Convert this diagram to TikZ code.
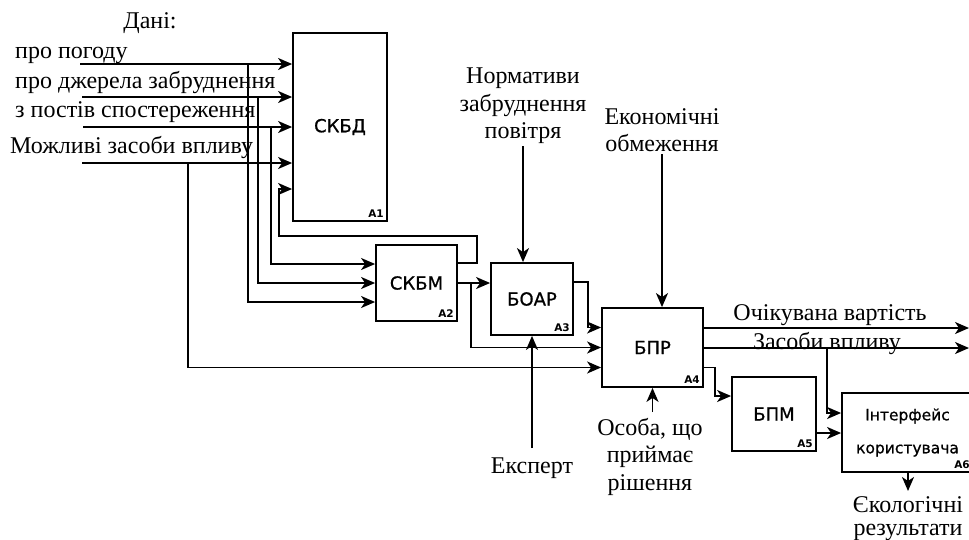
\documentclass[tikz,border=0pt]{standalone}
\usepackage{fontspec}
\setmainfont{Liberation Serif}
\newfontfamily\boxfont[FakeBold=0.8]{DejaVu Sans}
\newfontfamily\idxfont{DejaVu Sans}
\usepackage{tikz}
\usetikzlibrary{arrows.meta,calc}
\tikzset{
  box/.style={rectangle, draw, line width=1.8pt, inner sep=0pt, align=center,
              font=\boxfont\fontsize{18}{33}\selectfont},
  idx/.style={anchor=south east, inner sep=4pt,
              font=\idxfont\bfseries\fontsize{10.5}{10.5}\selectfont},
  txt/.style={inner sep=0pt, align=center, font=\fontsize{24}{27.5}\selectfont},
  flow/.style={-{Stealth[length=14pt,width=12pt,inset=4pt]}, line width=1.8pt}
}

\begin{document}
\begin{tikzpicture}[x=1pt,y=-1pt]
\useasboundingbox (0,0) rectangle (969,539);
% blocks
\node[box, minimum width=94pt, minimum height=188pt] (A1) at (340,127) {СКБД};
\node[box, minimum width=81pt, minimum height=76pt] (A2) at (416.5,283) {СКБМ};
\node[box, minimum width=82pt, minimum height=72pt] (A3) at (532,299) {БОАР};
\node[box, minimum width=101pt, minimum height=79pt] (A4) at (652.5,347.5) {БПР};
\node[box, minimum width=84pt, minimum height=74pt] (A5) at (774,414) {БПМ};
\node[box, minimum width=131pt, minimum height=79pt, font=\boxfont\fontsize{15.5}{33}\selectfont]
  (A6) at (907.5,432.5) {Інтерфейс\\користувача};
\foreach \i in {1,...,6} \node[idx] at (A\i.south east) {A\i};
% input data
\node[txt, anchor=base] (data) at (150,28) {Дані:};
\node[txt, anchor=base west] (weather) at (15,58) {про погоду};
\node[txt, anchor=base west] (sources) at (15,88) {про джерела забруднення};
\node[txt, anchor=base west] (posts) at (15,117) {з постів спостереження};
\node[txt, anchor=base west] (means) at (10,153) {Можливі засоби впливу};
\coordinate (i1) at (80,64); \coordinate (i2) at (82,97);
\coordinate (i3) at (83,127); \coordinate (i4) at (82,163);
\draw[flow] (i1) -- (i1 -| A1.west); \draw[flow] (i2) -- (i2 -| A1.west);
\draw[flow] (i3) -- (i3 -| A1.west); \draw[flow] (i4) -- (i4 -| A1.west);
\coordinate (d1) at (248,64); \coordinate (d2) at (258,97);
\coordinate (d3) at (271,127); \coordinate (d4) at (188,163);
\draw[flow] (d1) |- ([yshift=-19pt]A2.west);
\draw[flow] (d2) |- (A2.west);
\draw[flow] (d3) |- ([yshift=19pt]A2.west);
\draw[flow] (d4) |- ([yshift=-20pt]A4.west);
% feedback
\coordinate (fb) at (279,189);
\draw[flow] ([yshift=20pt]A2.east) -| (477,236) -| (fb) -- (fb -| A1.west);
\draw[flow] (A2.east) -- (A2.east -| A3.west);
\coordinate (j2) at (471,283);
\draw[flow] (j2) |- (A4.west);
\draw[flow] ([yshift=17pt]A3.east) -- ++(14,0) |- ([yshift=20pt]A4.west);
% controls and mechanisms
\node[txt, anchor=south] (norm) at (523,144) {Нормативи\\забруднення\\повітря};
\draw[flow] ([yshift=-2pt]norm.south) -- (norm.south |- A3.north);
\node[txt, anchor=south] (econ) at (662,152) {Економічні\\обмеження};
\draw[flow] ([yshift=-2pt]econ.south) -- (econ.south |- A4.north);
\node[txt, anchor=north] (expert) at (532,458) {Експерт};
\draw[flow] ([yshift=10pt]expert.north) -- (A3.south);
\node[txt, anchor=north] (person) at (650,418) {Особа, що\\приймає\\рішення};
\draw[flow] ([yshift=6pt]person.north -| A4.south) -- (A4.south);
% outputs
\coordinate (o1) at (969,328); \coordinate (o2) at (969,348);
\draw[flow] (o1 -| A4.east) -- (o1);
\draw[flow] (o2 -| A4.east) -- (o2);
\node[txt, anchor=base] (cost) at (830,320) {Очікувана вартість};
\node[txt, anchor=base] (ctrl) at (827,349) {Засоби впливу};
\coordinate (j4) at (827,348);
\draw[flow] (j4) |- ([yshift=19.5pt]A6.west);
\draw[flow] ([yshift=-20pt]A4.east) -- ++(11,0) |- ([yshift=18pt]A5.west);
\draw[flow] ([yshift=-19pt]A5.east) -- ([yshift=-19pt]A5.east -| A6.west);
\node[txt, anchor=north, font=\fontsize{24}{23}\selectfont] (eco) at (908,496) {Єкологічні\\результати};
\draw[flow] (A6.south -| eco.north) -- ([yshift=5pt]eco.north);
\end{tikzpicture}
\end{document}
